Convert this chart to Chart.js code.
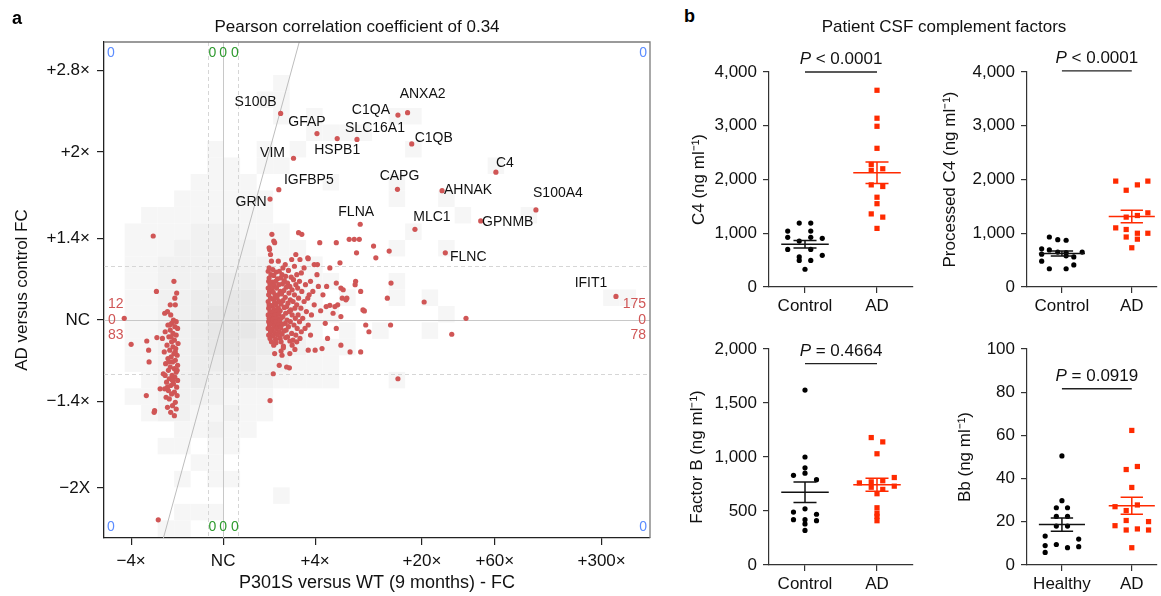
<!DOCTYPE html>
<html>
<head>
<meta charset="utf-8">
<script src="https://cdn.jsdelivr.net/npm/chart.js@4.4.1/dist/chart.umd.min.js"></script>
<style>
body { margin: 0; background: #fff; font-family: 'Liberation Sans', Arial, sans-serif; }
#page { position: relative; width: 1161px; height: 596px; overflow: hidden; }
canvas { position: absolute; }
.panel { position: absolute; font-weight: bold; font-size: 18px; color: #000; }
.ptitle { position: absolute; font-size: 17px; color: #111; text-align: center; white-space: nowrap; }
</style>
</head>
<body>
<div id="page">
  <canvas id="volcano" width="680" height="596" style="left:0;top:0"></canvas>
  <canvas id="c4" width="250" height="275" style="left:680px;top:40px"></canvas>
  <canvas id="pc4" width="241" height="275" style="left:920px;top:40px"></canvas>
  <canvas id="fb" width="250" height="276" style="left:680px;top:320px"></canvas>
  <canvas id="bb" width="241" height="276" style="left:920px;top:320px"></canvas>
  <div class="panel" style="left:12px;top:8px">a</div>
  <div class="panel" style="left:684px;top:6px">b</div>
  <div class="ptitle" style="left:157px;top:17px;width:400px">Pearson correlation coefficient of 0.34</div>
  <div class="ptitle" style="left:784px;top:17px;width:320px">Patient CSF complement factors</div>
</div>
<script>
Chart.defaults.font.family = "'Liberation Sans', Arial, Helvetica, sans-serif";
Chart.defaults.color = '#111';
Chart.defaults.animation = false;
Chart.defaults.events = [];

// ---------- panel a : log2 fold changes ----------
var xTickFold = [-4, 1, 4, 20, 60, 300];
var xTickLabels = ['\u22124\u00d7', 'NC', '+4\u00d7', '+20\u00d7', '+60\u00d7', '+300\u00d7'];
var yTickFold = [-2, -1.4, 1, 1.4, 2, 2.8];
var yTickLabels = ['\u22122X', '\u22121.4\u00d7', 'NC', '+1.4\u00d7', '+2\u00d7', '+2.8\u00d7'];
var fcCutoff = 1.25;

var geneNames = ['S100B', 'GFAP', 'HSPB1', 'SLC16A1', 'C1QA', 'ANXA2', 'C1QB', 'VIM', 'IGFBP5', 'GRN',
  'CAPG', 'AHNAK', 'C4', 'S100A4', 'GPNMB', 'MLC1', 'FLNC', 'FLNA', 'IFIT1'];
var geneX = [1.25, 2.04, 2.48, 2.91, 3.80, 4.01, 4.10, 1.53, 1.21, 1.02, 3.79, 4.76, 5.93, 6.80, 5.60, 4.17, 4.83, 2.98, 8.54];
var geneY = [1.23, 1.11, 1.08, 1.075, 1.22, 1.234, 1.048, 0.963, 0.776, 0.72, 0.778, 0.77, 0.88, 0.655, 0.59, 0.54, 0.40, 0.57, 0.14];

var leftCluster = [
  [-1.52, 0.50], [-2.15, 0.01], [-2.00, -0.145], [-1.66, -0.125], [-1.62, -0.18], [-1.61, -0.25], [-1.44, -0.105],
  [-1.67, -0.45], [-1.49, -0.54], [-1.50, -0.55], [-1.41, -1.19], [-1.45, 0.17], [-1.37, -0.41],
  [-1.07, 0.23], [-1.01, 0.16], [-1.05, 0.13], [-1.15, 0.09], [-1.04, 0.09], [-1.27, 0.04], [-1.14, 0.03], [-1.21, 0.05],
  [-1.08, 0.0], [-1.02, -0.01], [-1.12, -0.02], [-1.20, -0.03], [-1.05, -0.04], [-0.99, -0.05], [-1.15, -0.06],
  [-1.26, -0.07], [-1.09, -0.08], [-1.02, -0.09], [-1.18, -0.10], [-1.32, -0.11], [-1.06, -0.12], [-1.12, -0.13],
  [-0.98, -0.14], [-1.22, -0.15], [-1.09, -0.16], [-1.03, -0.17], [-1.16, -0.18], [-1.28, -0.19], [-1.07, -0.20],
  [-1.00, -0.21], [-1.13, -0.22], [-1.20, -0.23], [-1.04, -0.24], [-1.10, -0.25], [-1.25, -0.26], [-0.99, -0.27],
  [-1.15, -0.28], [-1.06, -0.29], [-1.19, -0.30], [-1.02, -0.31], [-1.30, -0.32], [-1.11, -0.33], [-1.05, -0.34],
  [-1.17, -0.35], [-0.99, -0.36], [-1.23, -0.37], [-1.08, -0.38], [-1.14, -0.39], [-1.01, -0.40], [-1.27, -0.41],
  [-1.19, -0.42], [-1.06, -0.43], [-1.12, -0.44], [-1.00, -0.45], [-1.24, -0.46], [-1.17, -0.47], [-1.04, -0.49],
  [-1.10, -0.51], [-1.21, -0.52], [-1.02, -0.53], [-1.14, -0.55], [-1.06, -0.57], [-1.10, -0.36], [-1.18, -0.25],
  [-1.13, -0.10], [-1.00, -0.30], [-1.26, -0.33], [-1.16, -0.03], [-1.04, -0.19], [-1.21, -0.40]
];

var rightCluster = [
  [1.00, 0.31], [1.08, 0.30], [1.30, 0.31], [1.55, 0.32],
  [0.98, 0.29], [1.15, 0.285], [1.22, 0.29], [1.42, 0.295], [1.70, 0.28],
  [1.04, 0.27], [1.10, 0.265], [1.28, 0.27], [1.36, 0.26], [1.60, 0.27],
  [1.00, 0.25], [1.18, 0.245], [1.25, 0.25], [1.48, 0.255], [1.53, 0.24],
  [0.99, 0.23], [1.07, 0.225], [1.14, 0.23], [1.33, 0.235], [1.40, 0.22], [1.66, 0.23], [1.90, 0.23],
  [1.02, 0.21], [1.11, 0.205], [1.21, 0.21], [1.29, 0.215], [1.45, 0.20], [1.58, 0.21], [1.79, 0.21],
  [0.98, 0.19], [1.06, 0.185], [1.16, 0.19], [1.37, 0.195], [1.50, 0.18], [1.62, 0.19],
  [1.01, 0.17], [1.09, 0.165], [1.24, 0.17], [1.32, 0.175], [1.43, 0.16], [1.71, 0.17], [1.95, 0.17],
  [0.99, 0.15], [1.13, 0.145], [1.19, 0.15], [1.27, 0.155], [1.55, 0.15],
  [1.03, 0.13], [1.08, 0.125], [1.17, 0.13], [1.35, 0.135], [1.46, 0.12], [1.64, 0.13],
  [0.98, 0.11], [1.12, 0.105], [1.22, 0.11], [1.30, 0.115], [1.41, 0.10], [1.52, 0.11], [1.76, 0.11],
  [1.00, 0.09], [1.06, 0.085], [1.15, 0.09], [1.26, 0.095], [1.38, 0.08], [1.60, 0.09], [1.98, 0.09],
  [0.99, 0.07], [1.10, 0.065], [1.20, 0.07], [1.33, 0.075], [1.47, 0.06], [1.56, 0.07], [1.69, 0.07],
  [1.02, 0.05], [1.08, 0.045], [1.16, 0.05], [1.24, 0.055], [1.36, 0.04], [1.44, 0.05], [1.81, 0.05],
  [0.98, 0.03], [1.05, 0.025], [1.13, 0.03], [1.21, 0.035], [1.30, 0.02], [1.50, 0.03], [1.63, 0.03], [1.92, 0.03],
  [1.00, 0.01], [1.09, 0.005], [1.18, 0.01], [1.27, 0.015], [1.39, 0.0], [1.57, 0.01], [1.73, 0.01],
  [0.99, -0.01], [1.07, -0.015], [1.14, -0.01], [1.23, -0.005], [1.35, -0.02], [1.46, -0.01], [1.66, -0.01],
  [1.01, -0.03], [1.11, -0.035], [1.20, -0.03], [1.29, -0.025], [1.42, -0.04], [1.54, -0.03], [1.85, -0.03],
  [0.98, -0.05], [1.06, -0.055], [1.16, -0.05], [1.25, -0.045], [1.37, -0.06], [1.61, -0.05], [1.78, -0.05],
  [1.03, -0.07], [1.12, -0.075], [1.22, -0.07], [1.32, -0.065], [1.49, -0.08], [1.70, -0.07],
  [0.99, -0.09], [1.08, -0.095], [1.18, -0.09], [1.28, -0.085], [1.40, -0.10], [1.58, -0.09], [1.90, -0.09],
  [1.02, -0.11], [1.14, -0.115], [1.24, -0.11], [1.36, -0.105], [1.52, -0.12], [1.67, -0.11],
  [1.05, -0.13], [1.15, -0.135], [1.26, -0.13], [1.45, -0.125], [1.60, -0.13],
  [1.10, -0.15], [1.31, -0.155], [1.50, -0.15],
  [1.00, 0.43], [1.03, 0.39], [1.10, 0.47], [1.06, 0.51], [1.12, 0.46], [1.49, 0.36], [1.67, 0.36], [1.84, 0.37],
  [1.58, 0.39], [1.64, 0.52], [1.71, 0.51], [1.01, 0.42], [1.20, 0.35], [1.35, 0.33], [1.05, 0.35]
];

var otherGenes = [
  [2.10, 0.46], [2.46, 0.46], [2.74, 0.48], [2.85, 0.48], [2.96, 0.48], [2.90, 0.40], [1.85, 0.365], [1.98, 0.33],
  [2.05, 0.33], [2.32, 0.31], [2.54, 0.34], [1.76, 0.31], [2.88, 0.23], [2.99, 0.17], [2.46, 0.22], [2.56, 0.19],
  [2.61, 0.18], [2.25, 0.20], [2.17, 0.15], [2.59, 0.13], [2.69, 0.13], [2.12, 0.055], [2.32, 0.087], [2.39, 0.04],
  [2.56, 0.02], [3.04, 0.06], [3.10, -0.03], [3.17, -0.07], [2.22, -0.02], [2.46, -0.05], [2.27, -0.11], [2.56, -0.15],
  [2.76, -0.19], [2.99, -0.19], [2.15, -0.17], [2.00, -0.18], [1.85, -0.18], [1.12, -0.20], [1.28, -0.21], [1.45, -0.20],
  [1.56, -0.175], [1.26, -0.185], [1.31, -0.165], [1.22, -0.27], [1.38, -0.28], [1.44, -0.285], [1.09, -0.32],
  [1.02, -0.48], [3.27, 0.44], [3.32, 0.37], [3.61, 0.41], [3.65, 0.22], [3.57, 0.13], [4.37, 0.107], [3.64, -0.03],
  [5.28, 0.01], [4.97, -0.085], [3.80, -0.35], [2.07, 0.20], [2.04, 0.27], [1.87, 0.15], [1.84, 0.13], [2.67, 0.12],
  [2.49, 0.09], [2.43, 0.08], [2.24, 0.08], [3.07, 0.054], [2.87, 0.21]
];

var countsLeft = ['12', '0', '83'];
var countsRight = ['175', '0', '78'];
var countsCenter = ['0', '0', '0'];
var countsCorner = '0';

// 2D density of all quantified proteins (bins of the background heat map)
var densityX0 = -2.5, densityDx = 0.3587, densityY0 = 1.655, densityDy = 0.0982;
var densityRows = [
  '',
  '',
  '..........1',
  '.........11',
  '..........1.1....11',
  '............1111',
  '......1..1.1......1',
  '......11.11............1',
  '.....1111....1...1',
  '....111111.......1..1',
  '..11111111...........1...1',
  '.1111222111.......1',
  '.11122222111.....1..1',
  '.112222222111',
  '.1122233322111...1',
  '.112233443221.1..1.1..........11',
  '.1122344433211......1',
  '.112234443321.1.1..1',
  '.11223443322111',
  '.1122333322111',
  '..122322221111...1',
  '.112222111',
  '..12211211',
  '....11211',
  '...11.11',
  '.....11',
  '....1.11',
  '..........1',
  '....111',
  '...11'
];
var densityShades = ['', '#f6f6f6', '#f1f1f1', '#ececec', '#e7e7e7', '#e2e2e2', '#dddddd'];

// where each gene name sits relative to its point (pixels)
var labelOffsets = {
  S100B: [-25, -11], GFAP: [-10, -11], HSPB1: [0, 12], SLC16A1: [18, -11], C1QA: [-27, -5], ANXA2: [15, -19],
  C1QB: [22, -6], VIM: [-21, -5], IGFBP5: [30, -10], GRN: [-19, 3], CAPG: [2, -13], AHNAK: [26, -1],
  C4: [9, -9], S100A4: [22, -17], GPNMB: [27, 1], MLC1: [17, -12], FLNC: [23, 4], FLNA: [-4, -12], IFIT1: [-25, -13]
};

function log2fold(f) { return f === 1 ? 0 : Math.sign(f) * Math.log2(Math.abs(f)); }

var volcanoPts = [];
geneX.forEach(function (x, i) { volcanoPts.push({ x: x, y: geneY[i] }); });
leftCluster.concat(rightCluster, otherGenes).forEach(function (p) { volcanoPts.push({ x: p[0], y: p[1] }); });

var volcanoDecor = {
  id: 'volcanoDecor',
  beforeDatasetsDraw: function (chart) {
    var ctx = chart.ctx, a = chart.chartArea, xs = chart.scales.x, ys = chart.scales.y;
    ctx.save();
    ctx.beginPath(); ctx.rect(a.left, a.top, a.width, a.height); ctx.clip();
    densityRows.forEach(function (row, j) {
      for (var i = 0; i < row.length; i++) {
        var lv = '.123456'.indexOf(row[i]);
        if (lv <= 0) continue;
        var x0 = xs.getPixelForValue(densityX0 + i * densityDx), x1 = xs.getPixelForValue(densityX0 + (i + 1) * densityDx);
        var y0 = ys.getPixelForValue(densityY0 - j * densityDy), y1 = ys.getPixelForValue(densityY0 - (j + 1) * densityDy);
        ctx.fillStyle = densityShades[lv];
        ctx.fillRect(x0, y0, x1 - x0, y1 - y0);
      }
    });
    var t = Math.log2(fcCutoff);
    function vline(v) { var p = Math.round(xs.getPixelForValue(v)) + 0.5; ctx.beginPath(); ctx.moveTo(p, a.top); ctx.lineTo(p, a.bottom); ctx.stroke(); }
    function hline(v) { var p = Math.round(ys.getPixelForValue(v)) + 0.5; ctx.beginPath(); ctx.moveTo(a.left, p); ctx.lineTo(a.right, p); ctx.stroke(); }
    ctx.lineWidth = 1;
    ctx.strokeStyle = '#d6d6d6';
    ctx.setLineDash([4, 3]);
    vline(-t); vline(t); hline(-t); hline(t);
    ctx.setLineDash([]);
    ctx.strokeStyle = '#c8c8c8';
    vline(0); hline(0);
    ctx.strokeStyle = '#bdbdbd';
    ctx.beginPath();
    ctx.moveTo(xs.getPixelForValue(ys.min), ys.getPixelForValue(ys.min));
    ctx.lineTo(xs.getPixelForValue(ys.max), ys.getPixelForValue(ys.max));
    ctx.stroke();
    ctx.restore();
  },
  afterDatasetsDraw: function (chart) {
    var ctx = chart.ctx, a = chart.chartArea, xs = chart.scales.x, ys = chart.scales.y;
    var t = Math.log2(fcCutoff);
    ctx.save();
    ctx.font = "14px 'Liberation Sans', Arial, sans-serif";
    ctx.fillStyle = '#111';
    ctx.textAlign = 'center';
    ctx.textBaseline = 'middle';
    geneNames.forEach(function (g, i) {
      var off = labelOffsets[g];
      ctx.fillText(g, xs.getPixelForValue(geneX[i]) + off[0], ys.getPixelForValue(geneY[i]) + off[1]);
    });
    // quadrant counts
    ctx.font = "14px 'Liberation Sans', Arial, sans-serif";
    ctx.fillStyle = '#5b8cff';
    ctx.textAlign = 'left';
    ctx.fillText(countsCorner, a.left + 3, a.top + 11);
    ctx.fillText(countsCorner, a.left + 3, a.bottom - 11);
    ctx.textAlign = 'right';
    ctx.fillText(countsCorner, a.right - 3, a.top + 11);
    ctx.fillText(countsCorner, a.right - 3, a.bottom - 11);
    ctx.fillStyle = '#2e9a2e';
    ctx.textAlign = 'center';
    var gx = [xs.getPixelForValue(-t) + 4, xs.getPixelForValue(0), xs.getPixelForValue(t) - 3];
    gx.forEach(function (x, i) {
      ctx.fillText(countsCenter[i], x, a.top + 11);
      ctx.fillText(countsCenter[i], x, a.bottom - 11);
    });
    ctx.fillStyle = '#d05656';
    var y0 = ys.getPixelForValue(0);
    ctx.textAlign = 'left';
    countsLeft.forEach(function (s, i) { ctx.fillText(s, a.left + 4, y0 + (i - 1) * 15.5); });
    ctx.textAlign = 'right';
    countsRight.forEach(function (s, i) { ctx.fillText(s, a.right - 4, y0 + (i - 1) * 15.5); });
    // top and right frame
    ctx.strokeStyle = '#7a7a7a';
    ctx.lineWidth = 1.3;
    ctx.beginPath();
    ctx.moveTo(a.left, a.top); ctx.lineTo(a.right, a.top); ctx.lineTo(a.right, a.bottom);
    ctx.stroke();
    ctx.restore();
  }
};

new Chart(document.getElementById('volcano'), {
  type: 'scatter',
  data: {
    datasets: [{
      data: volcanoPts,
      pointRadius: 2.6,
      pointBackgroundColor: '#d05656',
      pointBorderWidth: 0
    }]
  },
  options: {
    responsive: false,
    layout: { padding: { left: 0, right: 30, top: 42, bottom: 0 } },
    plugins: { legend: { display: false }, tooltip: { enabled: false } },
    scales: {
      x: {
        type: 'linear', min: -2.59, max: 9.28,
        afterBuildTicks: function (s) { s.ticks = xTickFold.map(function (f) { return { value: log2fold(f) }; }); },
        afterFit: function (s) { s.height = 58; },
        ticks: { callback: function (v, i) { return xTickLabels[i]; }, font: { size: 17 }, color: '#111', padding: 6, maxRotation: 0, autoSkip: false },
        grid: { drawOnChartArea: false, tickLength: 7, color: '#222', lineWidth: 1.2 },
        border: { color: '#222', width: 1.3 },
        title: { display: true, text: 'P301S versus WT (9 months) - FC', font: { size: 18 }, color: '#111', padding: { top: 0, bottom: 2 } }
      },
      y: {
        type: 'linear', min: -1.298, max: 1.655,
        afterBuildTicks: function (s) { s.ticks = yTickFold.map(function (f) { return { value: log2fold(f) }; }); },
        afterFit: function (s) { s.width = 104; },
        ticks: { callback: function (v, i) { return yTickLabels[i]; }, font: { size: 17 }, color: '#111', padding: 7, autoSkip: false },
        grid: { drawOnChartArea: false, tickLength: 7, color: '#222', lineWidth: 1.2 },
        border: { color: '#222', width: 1.3 },
        title: { display: true, text: 'AD versus control FC', font: { size: 17 }, color: '#111', padding: { top: 12, bottom: 0 } }
      }
    }
  },
  plugins: [volcanoDecor]
});

// ---------- panel b : CSF complement factors ----------
var adRed = '#ff2a00';

var c4Control = [1190, 1190, 1040, 1040, 925, 925, 905, 855, 700, 700, 560, 590, 495, 495, 330];
var c4ControlJit = [-0.08, 0.08, -0.24, 0.08, -0.24, 0.08, 0.24, -0.08, -0.24, 0.08, -0.08, 0.24, 0.08, -0.08, 0];
var c4AD = [3660, 3140, 2990, 2580, 2280, 2200, 2170, 1900, 1870, 1670, 1550, 1360, 1300, 1090];
var c4ADJit = [0, 0, 0, 0, -0.08, 0.08, -0.08, -0.08, 0.08, 0, 0, -0.08, 0.08, 0];

var pc4Control = [930, 880, 870, 710, 690, 650, 640, 650, 610, 580, 560, 480, 410, 340, 340];
var pc4ControlJit = [-0.18, -0.06, 0.06, -0.29, -0.18, -0.06, 0.06, 0.29, -0.29, 0.06, 0.17, -0.29, 0.17, -0.18, 0.06];
var pc4AD = [1970, 1970, 1900, 1800, 1380, 1330, 1300, 1100, 1070, 1000, 1000, 930, 890, 730];
var pc4ADJit = [-0.23, 0.23, 0.08, -0.08, 0.23, 0.08, -0.08, -0.23, -0.08, 0.23, 0.08, -0.08, 0.08, 0];

var fbControl = [1620, 1000, 900, 830, 850, 790, 520, 490, 470, 420, 420, 410, 380, 320];
var fbControlJit = [0, 0, 0, -0.16, 0, 0.16, 0, -0.16, 0.16, -0.16, 0, 0.16, 0, 0];
var fbAD = [1180, 1140, 1030, 810, 780, 770, 760, 730, 720, 700, 660, 530, 480, 450, 410];
var fbADJit = [-0.08, 0.08, 0, 0.24, 0.08, -0.08, -0.245, 0.24, -0.08, 0.08, 0, 0, 0, 0, 0];

var bbHealthy = [50.5, 29.8, 26.5, 26.5, 22.5, 22.5, 18, 18, 12, 13.4, 9.5, 8.5, 8, 9, 5.8];
var bbHealthyJit = [0, 0, -0.08, 0.08, -0.08, 0.08, -0.08, 0.08, 0.24, -0.24, -0.08, 0.24, 0.08, -0.24, -0.24];
var bbAD = [62.3, 45.6, 44.2, 35.9, 27.0, 27.8, 25.2, 20.6, 20.1, 18.2, 16.2, 16.7, 16.2, 8.0];
var bbADJit = [0, 0.08, -0.08, 0, -0.24, 0.08, -0.08, -0.08, 0.24, -0.24, -0.08, 0.08, 0.24, 0];

function mean(v) { return v.reduce(function (s, x) { return s + x; }, 0) / v.length; }
function sem(v) {
  var m = mean(v);
  var ss = v.reduce(function (s, x) { return s + (x - m) * (x - m); }, 0);
  return Math.sqrt(ss / (v.length - 1)) / Math.sqrt(v.length);
}

function dotChart(id, ctrl, ctrlJit, ad, adJit, o) {
  var decor = {
    id: 'dotDecor',
    afterDatasetsDraw: function (chart) {
      var ctx = chart.ctx, xs = chart.scales.x, ys = chart.scales.y;
      ctx.save();
      [[ctrl, 0, '#111'], [ad, 1, adRed]].forEach(function (g) {
        var m = mean(g[0]), se = sem(g[0]), c = g[1];
        ctx.strokeStyle = g[2];
        ctx.lineWidth = 1.5;
        ctx.beginPath();
        ctx.moveTo(xs.getPixelForValue(c - 0.33), ys.getPixelForValue(m));
        ctx.lineTo(xs.getPixelForValue(c + 0.33), ys.getPixelForValue(m));
        [m - se, m + se].forEach(function (v) {
          ctx.moveTo(xs.getPixelForValue(c - 0.16), ys.getPixelForValue(v));
          ctx.lineTo(xs.getPixelForValue(c + 0.16), ys.getPixelForValue(v));
        });
        ctx.moveTo(xs.getPixelForValue(c), ys.getPixelForValue(m - se));
        ctx.lineTo(xs.getPixelForValue(c), ys.getPixelForValue(m + se));
        ctx.stroke();
      });
      // significance bracket
      var ly = ys.getPixelForValue(o.pLevel);
      ctx.strokeStyle = '#222';
      ctx.lineWidth = 1.3;
      ctx.beginPath();
      ctx.moveTo(xs.getPixelForValue(0), ly);
      ctx.lineTo(xs.getPixelForValue(1), ly);
      ctx.stroke();
      var cx = xs.getPixelForValue(0.5);
      ctx.fillStyle = '#111';
      ctx.textBaseline = 'alphabetic';
      ctx.textAlign = 'left';
      ctx.font = "italic 17px 'Liberation Sans', Arial, sans-serif";
      var wP = ctx.measureText('P').width;
      ctx.font = "17px 'Liberation Sans', Arial, sans-serif";
      var wR = ctx.measureText(o.pText).width;
      var x0 = cx - (wP + wR) / 2;
      ctx.font = "italic 17px 'Liberation Sans', Arial, sans-serif";
      ctx.fillText('P', x0, ly - 8);
      ctx.font = "17px 'Liberation Sans', Arial, sans-serif";
      ctx.fillText(o.pText, x0 + wP, ly - 8);
      ctx.restore();
    }
  };
  return new Chart(document.getElementById(id), {
    type: 'scatter',
    data: {
      datasets: [
        { data: ctrl.map(function (v, i) { return { x: ctrlJit[i], y: v }; }), pointStyle: 'circle', pointRadius: 2.6, pointBackgroundColor: '#000', pointBorderWidth: 0 },
        { data: ad.map(function (v, i) { return { x: 1 + adJit[i], y: v }; }), pointStyle: 'rect', pointRadius: 3.7, pointBackgroundColor: adRed, pointBorderWidth: 0 }
      ]
    },
    options: {
      responsive: false,
      layout: { padding: { top: o.padTop, right: o.padRight, left: 0, bottom: 0 } },
      plugins: { legend: { display: false }, tooltip: { enabled: false } },
      scales: {
        x: {
          type: 'linear', min: -0.5, max: o.xMax,
          afterBuildTicks: function (s) { s.ticks = [{ value: 0 }, { value: 1 }]; },
          afterFit: function (s) { s.height = o.xAxisH; },
          ticks: { callback: function (v, i) { return o.groups[i]; }, font: { size: 17 }, color: '#111', padding: 3, maxRotation: 0, autoSkip: false },
          grid: { drawOnChartArea: false, tickLength: 6, color: '#333', lineWidth: 1.2 },
          border: { color: '#333', width: 1.2 }
        },
        y: {
          min: 0, max: o.yMax,
          afterFit: function (s) { s.width = o.yAxisW; },
          ticks: { stepSize: o.step, callback: function (v) { return v.toLocaleString('en-US'); }, font: { size: 17 }, color: '#111', padding: 6 },
          grid: { drawOnChartArea: false, tickLength: 6, color: '#333', lineWidth: 1.2 },
          border: { color: '#333', width: 1.2 },
          title: { display: true, text: o.yTitle, font: { size: 17 }, color: '#111', padding: { top: o.titlePad, bottom: 0 } }
        }
      }
    },
    plugins: [decor]
  });
}

dotChart('c4', c4Control, c4ControlJit, c4AD, c4ADJit, {
  groups: ['Control', 'AD'], yMax: 4000, step: 1000, yTitle: 'C4 (ng ml\u207b\u00b9)', pText: ' < 0.0001', pLevel: 4000,
  padTop: 32, padRight: 17, xAxisH: 28, yAxisW: 89, xMax: 1.5, titlePad: 9
});
dotChart('pc4', pc4Control, pc4ControlJit, pc4AD, pc4ADJit, {
  groups: ['Control', 'AD'], yMax: 4000, step: 1000, yTitle: 'Processed C4 (ng ml\u207b\u00b9)', pText: ' < 0.0001', pLevel: 4020,
  padTop: 32, padRight: 0, xAxisH: 28, yAxisW: 107, xMax: 1.361, titlePad: 20
});
dotChart('fb', fbControl, fbControlJit, fbAD, fbADJit, {
  groups: ['Control', 'AD'], yMax: 2000, step: 500, yTitle: 'Factor B (ng ml\u207b\u00b9)', pText: ' = 0.4664', pLevel: 1864,
  padTop: 29, padRight: 17, xAxisH: 31, yAxisW: 89, xMax: 1.5, titlePad: 7
});
dotChart('bb', bbHealthy, bbHealthyJit, bbAD, bbADJit, {
  groups: ['Healthy', 'AD'], yMax: 100, step: 20, yTitle: 'Bb (ng ml\u207b\u00b9)', pText: ' = 0.0919', pLevel: 81.6,
  padTop: 29, padRight: 0, xAxisH: 31, yAxisW: 107, xMax: 1.361, titlePad: 35
});
</script>
</body>
</html>
